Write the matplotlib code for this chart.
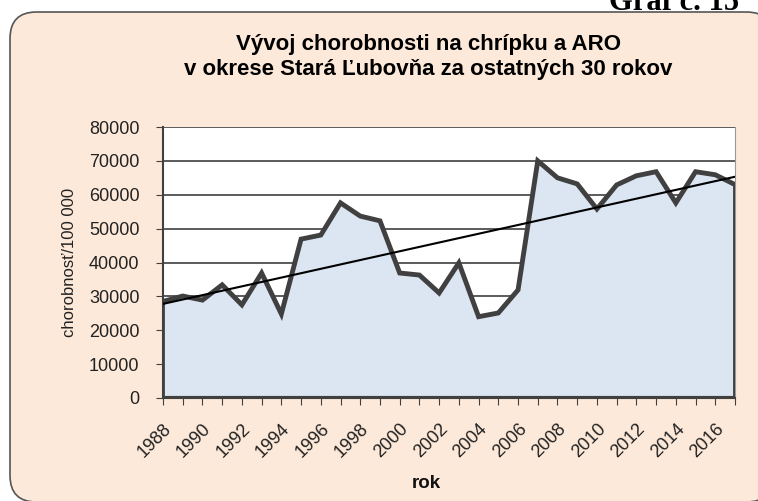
import numpy as np
import matplotlib
matplotlib.use("Agg")
import matplotlib.pyplot as plt
from matplotlib.patches import FancyBboxPatch

years = list(range(1988, 2018))
values = [28500, 30100, 28900, 33400, 27500, 36900, 24800, 46900, 48100, 57600,
          53700, 52300, 36900, 36300, 31000, 39900, 24000, 25100, 31900, 70000,
          65000, 63200, 55800, 62900, 65600, 66800, 57600, 66800, 65900, 63000]
title = "Vývoj chorobnosti na chrípku a ARO\nv okrese Stará Ľubovňa za ostatných 30 rokov"
ylabel = "chorobnosť/100 000"
xlabel = "rok"
corner = "Graf č. 15"

plt.rcParams['font.family'] = ['Liberation Sans', 'DejaVu Sans']

W, H = 758, 501
fig = plt.figure(figsize=(W/100, H/100), dpi=100)
fig.patch.set_facecolor('white')

box = FancyBboxPatch((10/W, -1/H), (W-10+15)/W, (H-12+1)/H,
                     boxstyle="round,pad=0,rounding_size=0.035",
                     transform=fig.transFigure, facecolor='#FDE9D9',
                     edgecolor='#555555', linewidth=1.2, zorder=-5,
                     mutation_aspect=W/H)
fig.patches.append(box)

fig.text(739/W, 1-10/H, corner, ha='right', va='baseline',
         fontsize=22, fontweight='bold', family='Liberation Serif')

ax = fig.add_axes([163/W, 1-398/H, (735-163)/W, (398-127)/H])
ax.set_zorder(2)
ax.set_facecolor('white')
x = np.array(years)
y = np.array(values)
ax.fill_between(x, 0, y, color='#DCE6F2', zorder=2)
ax.plot(x, y, color='#404040', lw=3.5, zorder=3, solid_joinstyle='miter')
ax.plot([x[-1], x[-1]], [0, y[-1]], color='#404040', lw=3.5, zorder=3)
ax.plot([x[0], x[0]], [0, y[0]], color='#404040', lw=2, zorder=3)
ax.plot([x[0], x[-1]], [0, 0], color='#404040', lw=3, zorder=3)

coef = np.polyfit(x, y, 1)
ax.plot(x, np.polyval(coef, x), color='black', lw=1.5, zorder=4)

ax.set_xlim(1988, 2017)
ax.set_ylim(0, 80000)
ax.set_yticks(range(0, 80001, 10000))
ax.yaxis.grid(True, color='#404040', lw=1.2, zorder=1)
ax.set_axisbelow(True)
ax.set_xticks(years)
ax.set_xticklabels([str(v) if (v - 1988) % 2 == 0 else '' for v in years],
                   rotation=45, ha='right', va='top', rotation_mode='anchor', fontsize=13)
ax.tick_params(axis='y', labelsize=13, direction='out', length=5, pad=12,
               color='#404040', labelcolor='#222222')
ax.tick_params(axis='x', direction='out', length=5, pad=11,
               color='#404040', labelcolor='#222222')
ax.spines['top'].set_visible(False)
ax.spines['right'].set_color('#999999')
ax.spines['left'].set_color('#404040')
ax.spines['left'].set_linewidth(1.5)
ax.spines['bottom'].set_color('#404040')
ax.spines['bottom'].set_linewidth(1.5)

ax.set_ylabel(ylabel, fontsize=12, color='#222222')
ax.yaxis.set_label_coords((70-163)/(735-163), 0.5)
ax.yaxis.label.set_va('center')
ax.set_xlabel(xlabel, fontsize=13.5, fontweight='bold', color='#111111')
ax.xaxis.set_label_coords((426-163)/(735-163), -(484-398)/(398-127))
ax.xaxis.label.set_va('center')

fig.text(428/W, 1-57/H, title, ha='center', va='center', fontsize=16,
         fontweight='bold', linespacing=1.3)

fig.savefig('out.png', dpi=100, facecolor=fig.get_facecolor())
